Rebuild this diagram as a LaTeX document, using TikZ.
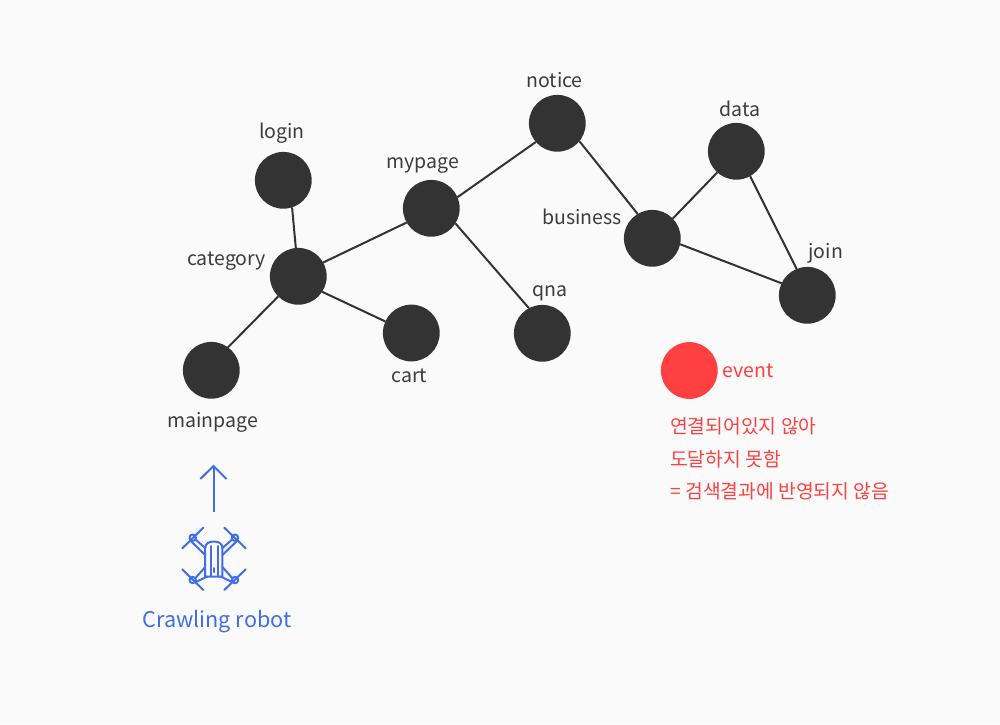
\documentclass[tikz,border=0pt]{standalone}
\usepackage{fontspec}
\setmainfont{Noto Sans CJK KR}
\definecolor{bgc}{HTML}{FAFAFB}
\definecolor{dark}{HTML}{333333}
\definecolor{labelc}{HTML}{3C3C3C}
\definecolor{redc}{HTML}{FF4040}
\definecolor{bluec}{HTML}{3F6EE6}
\begin{document}
\begin{tikzpicture}[x=1pt,y=-1pt,
  vertex/.style={circle,fill=dark,minimum size=56.8pt,inner sep=0pt,outer sep=0pt},
  redvertex/.style={circle,fill=redc,minimum size=56.8pt,inner sep=0pt,outer sep=0pt},
  lbl/.style={font=\fontsize{19.5pt}{24pt}\selectfont,text=labelc,inner sep=0pt,anchor=base},
  redlbl/.style={font=\fontsize{19.5pt}{24pt}\selectfont,text=redc,inner sep=0pt,anchor=base},
  notelbl/.style={font=\fontsize{19.3pt}{24pt}\selectfont,text=redc,inner sep=0pt,anchor=base west},
  link/.style={draw=dark,line width=2pt},
  ico/.style={draw=bluec,line width=2pt}]
\useasboundingbox (0,0) rectangle (1000,724);
\fill[bgc] (0,0) rectangle (1000,724);
% vertices
\node[vertex] (login) at (283.3,180.3) {};
\node[vertex] (category) at (298.3,276.3) {};
\node[vertex] (mainpage) at (211.3,370.3) {};
\node[vertex] (cart) at (411.3,333) {};
\node[vertex] (mypage) at (431.3,208.3) {};
\node[vertex] (qna) at (542.3,333.3) {};
\node[vertex] (notice) at (557.3,123.3) {};
\node[vertex] (business) at (652.3,238.3) {};
\node[vertex] (data) at (736.3,151.3) {};
\node[vertex] (join) at (807.3,295.3) {};
\node[redvertex] (event) at (689.3,370.5) {};
% links
\draw[link] (login.-72.8) -- (category.95.4);
\draw[link] (category.225.5) -- (mainpage.54.8);
\draw[link] (category.-33.9) -- (cart.156.7);
\draw[link] (category.29.8) -- (mypage.210.6);
\draw[link] (mypage.-32.4) -- (qna.118.1);
\draw[link] (mypage.23.4) -- (notice.221.7);
\draw[link] (notice.-39) -- (business.121.7);
\draw[link] (business.44) -- (data.228.3);
\draw[link] (business.-12) -- (join.155);
\draw[link] (data.-61.7) -- (join.112.7);
% labels
\node[lbl] (tlogin) at (282,138.5) {login};
\node[lbl] (tcategory) at (226.5,265) {category};
\node[lbl] (tmainpage) at (212.6,427) {mainpage};
\node[lbl] (tcart) at (409.5,382.5) {cart};
\node[lbl] (tmypage) at (423,168.3) {mypage};
\node[lbl] (tqna) at (549.5,296.5) {qna};
\node[lbl] (tnotice) at (554.5,87) {notice};
\node[lbl] (tbusiness) at (582,224.3) {business};
\node[lbl] (tdata) at (739.8,116.3) {data};
\node[lbl] (tjoin) at (825.7,258.7) {join};
\node[redlbl] (tevent) at (748.3,377) {event};
\node[notelbl] (n1) at (670,433) {연결되어있지 않아};
\node[notelbl] (n2) at (670,466) {도달하지 못함};
\node[notelbl] (n3) at (670,498) {= 검색결과에 반영되지 않음};
\node[font=\fontsize{21.6pt}{27pt}\selectfont,text=bluec,inner sep=0pt,anchor=base] (robot) at (217,627.5) {Crawling robot};
% arrow
\coordinate (atail) at (213.5,512);
\coordinate (ahead) at (213.5,466);
\draw[ico] (atail) -- (ahead);
\draw[ico] (200.3,479) -- (ahead) -- (226.6,479);
% drone
\begin{scope}[line cap=round,line join=round]
\draw[ico] (205.2,576.5) -- (205.2,548) .. controls (205.2,543.5) and (209,541.5) .. (213.8,541.5) .. controls (218.6,541.5) and (222.4,543.5) .. (222.4,548) -- (222.4,576.5) -- cycle;
\draw[ico] (210.5,546) -- (210.5,576);
\draw[ico] (217.5,546) -- (217.5,576);
\draw[ico] (213.8,568) -- (213.8,572);
\foreach \cx/\cy in {192.7/537.7,235/537.7,192.7/580,235/580}{
  \draw[ico] (\cx,\cy) circle (3.2pt);
}
\draw[ico] (182.3,548.3) -- (203.3,527.7);
\draw[ico] (224.3,527.7) -- (245.7,548.3);
\draw[ico] (182.3,569.3) -- (203.3,590);
\draw[ico] (245.7,569.3) -- (224.3,590);
% arms
\draw[ico] (195.5,539.5) -- (205.2,548);
\draw[ico] (190.8,541) -- (205.2,555);
\draw[ico] (232.2,539.5) -- (222.4,548);
\draw[ico] (237,541) -- (222.4,555);
\draw[ico] (195.5,578) -- (205.2,567);
\draw[ico] (196,582) -- (207,576.5);
\draw[ico] (232.2,578) -- (222.4,567);
\draw[ico] (232,582) -- (220.5,576.5);
\end{scope}
\end{tikzpicture}
\end{document}
